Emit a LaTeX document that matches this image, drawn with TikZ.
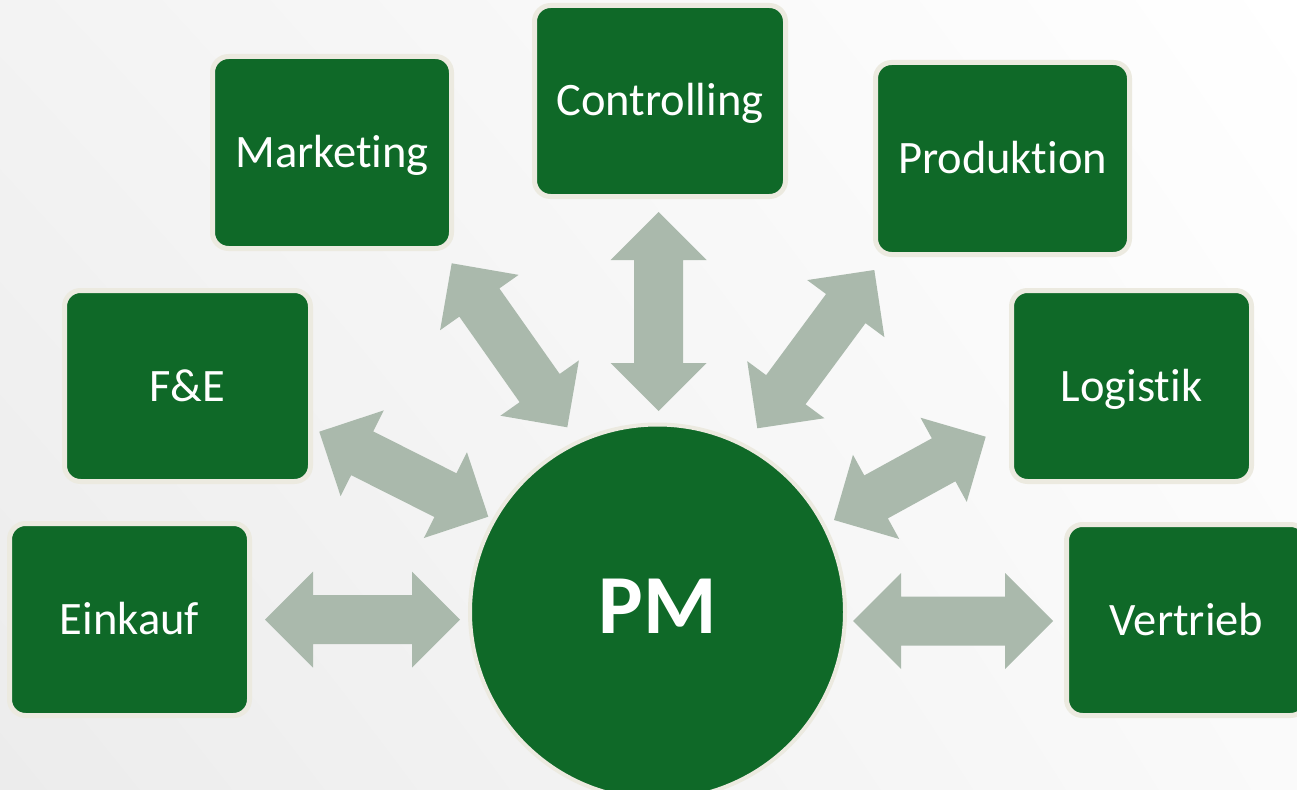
\documentclass[tikz,border=0pt]{standalone}
\usepackage{fontspec}
\setmainfont{Carlito}[Ligatures={NoCommon,NoContextual}]
\usetikzlibrary{calc,shadings}
\definecolor{pmgreen}{RGB}{15,105,40}
\definecolor{pmcream}{RGB}{236,234,224}
\definecolor{pmarrow}{RGB}{170,185,172}
\definecolor{bgA}{RGB}{243,243,243}
\definecolor{bgB}{RGB}{236,236,236}
\definecolor{bgC}{RGB}{250,250,250}
\newcommand\hl{48pt}
\newcommand\hw{48pt}
\newcommand\sw{24.5pt}
\newcommand\nolig{\kern0pt\relax}
\newcommand\dblarrow[2]{%
  \fill[arrowfill] (#1)
    -- ($(#1)!\hl!(#2)!\hw!90:(#2)$)
    -- ($(#1)!\hl!(#2)!\sw!90:(#2)$)
    -- ($(#2)!\hl!(#1)!\sw!-90:(#1)$)
    -- ($(#2)!\hl!(#1)!\hw!-90:(#1)$)
    -- (#2)
    -- ($(#2)!\hl!(#1)!\hw!90:(#1)$)
    -- ($(#2)!\hl!(#1)!\sw!90:(#1)$)
    -- ($(#1)!\hl!(#2)!\sw!-90:(#2)$)
    -- ($(#1)!\hl!(#2)!\hw!-90:(#2)$)
    -- cycle;}
\tikzset{
  dept/.style={rectangle, rounded corners=16pt, fill=pmgreen, draw=pmcream,
    line width=5pt, text=white, font=\fontsize{46.5}{56}\selectfont,
    text height=30pt, text depth=0pt, inner sep=0pt, align=center},
  hub/.style={circle, fill=pmgreen, draw=pmcream, line width=4pt, text=white,
    font=\fontsize{84}{100}\selectfont\bfseries, minimum size=375pt,
    text height=54pt, text depth=12pt, inner sep=0pt},
  arrowfill/.style={fill=pmarrow}
}
\begin{document}
\begin{tikzpicture}[x=1pt,y=-1pt]
\useasboundingbox (0,0) rectangle (1297,789);
\shade[upper left=bgA, lower left=bgB, upper right=white, lower right=bgC]
  (0,0) rectangle (1297,789);

% arrow end points
\coordinate (e1) at (265,619.5);   \coordinate (e2) at (460,619.5);
\coordinate (f1) at (319.3,431.7); \coordinate (f2) at (488.3,516.7);
\coordinate (m1) at (451.7,263.3); \coordinate (m2) at (567.3,427.3);
\coordinate (c1) at (658.5,212);   \coordinate (c2) at (658.5,411);
\coordinate (p1) at (874.3,270);   \coordinate (p2) at (757.3,428.3);
\coordinate (l1) at (985.7,436.7); \coordinate (l2) at (834,520);
\coordinate (v1) at (853,621);     \coordinate (v2) at (1053,621);

\dblarrow{e1}{e2}
\dblarrow{f1}{f2}
\dblarrow{m1}{m2}
\dblarrow{c1}{c2}
\dblarrow{p1}{p2}
\dblarrow{l1}{l2}
\dblarrow{v1}{v2}

\node[dept, minimum width=239pt, minimum height=192pt] (mkt) at (332,152.5) {Market\nolig ing};
\node[dept, minimum width=251pt, minimum height=191pt] (ctl) at (660,101) {Controlling};
\node[dept, minimum width=254pt, minimum height=192pt] (prd) at (1002.5,158.5) {Produkt\nolig ion};
\node[dept, minimum width=246pt, minimum height=191pt] (fue) at (187.5,386) {F\&E};
\node[dept, minimum width=240pt, minimum height=191pt] (log) at (1131.5,386) {Logist\nolig ik};
\node[dept, minimum width=240pt, minimum height=192pt] (ein) at (129.5,619.5) {Einkauf};
\node[dept, minimum width=240pt, minimum height=191pt] (ver) at (1186.5,620) {Vertrieb};
\node[hub] (pm) at (657.5,612) {PM};
\end{tikzpicture}
\end{document}
